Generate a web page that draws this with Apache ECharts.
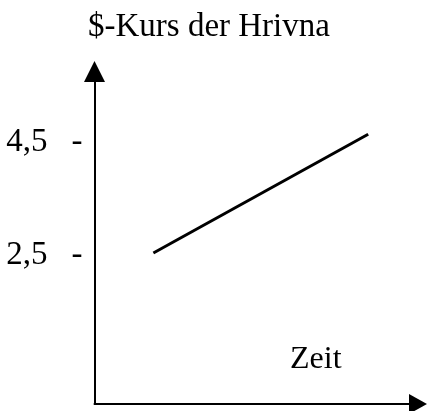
<!DOCTYPE html>
<html>
<head>
<meta charset="utf-8">
<script src="https://cdn.jsdelivr.net/npm/echarts@6/dist/echarts.min.js"></script>
<style>
  html, body { margin: 0; padding: 0; background: #fff; }
  #chart { width: 428px; height: 411px; }
</style>
</head>
<body>
<div id="chart"></div>
<script>
// Exchange rate trend of the hryvnia against the dollar over time
const titleText = '$-Kurs der Hrivna';
const xName = 'Zeit';
const tickValues = [2.5, 4.5];
const tickLabels = ['2,5', '4,5'];
const timePoints = [1.82, 8.46];
const rateValues = [2.54, 4.64];

const FONT = '"Liberation Serif", "Times New Roman", serif';

const chart = echarts.init(document.getElementById('chart'), null, { renderer: 'canvas' });

const labelFor = {};
tickValues.forEach((v, i) => { labelFor[v] = tickLabels[i]; });

chart.setOption({
  animation: false,
  backgroundColor: '#ffffff',
  title: [
    {
      text: titleText,
      left: 88,
      top: 11,
      padding: 0,
      textStyle: { fontFamily: FONT, fontSize: 33, fontWeight: 'normal', color: '#000' }
    },
    {
      text: xName,
      left: 290,
      top: 344,
      padding: 0,
      textStyle: { fontFamily: FONT, fontSize: 32, fontWeight: 'normal', color: '#000' }
    }
  ],
  grid: { left: 94.5, right: 10, top: 71.5, bottom: 7, containLabel: false },
  xAxis: {
    type: 'value',
    min: 0,
    max: 10,
    axisLine: {
      show: true,
      onZero: false,
      symbol: ['none', 'triangle'],
      symbolSize: [20, 18],
      lineStyle: { color: '#000', width: 2 }
    },
    axisTick: { show: false },
    axisLabel: { show: false },
    splitLine: { show: false }
  },
  yAxis: {
    type: 'value',
    min: -0.13,
    max: 5.75,
    axisLine: {
      show: true,
      onZero: false,
      symbol: ['none', 'triangle'],
      symbolSize: [21, 21],
      lineStyle: { color: '#000', width: 2 }
    },
    axisTick: { show: false },
    splitLine: { show: false },
    axisLabel: {
      show: true,
      customValues: tickValues,
      margin: 12,
      formatter: (v) => '{v|' + (labelFor[v] || String(v).replace('.', ',')) + '}{d|-}',
      rich: {
        v: { fontFamily: FONT, fontSize: 33, color: '#000' },
        d: { fontFamily: FONT, fontSize: 33, color: '#000', padding: [0, 0, 0, 24] }
      }
    }
  },
  series: [
    {
      type: 'line',
      data: timePoints.map((t, i) => [t, rateValues[i]]),
      symbol: 'none',
      lineStyle: { color: '#000', width: 3 }
    }
  ]
});
</script>
</body>
</html>
